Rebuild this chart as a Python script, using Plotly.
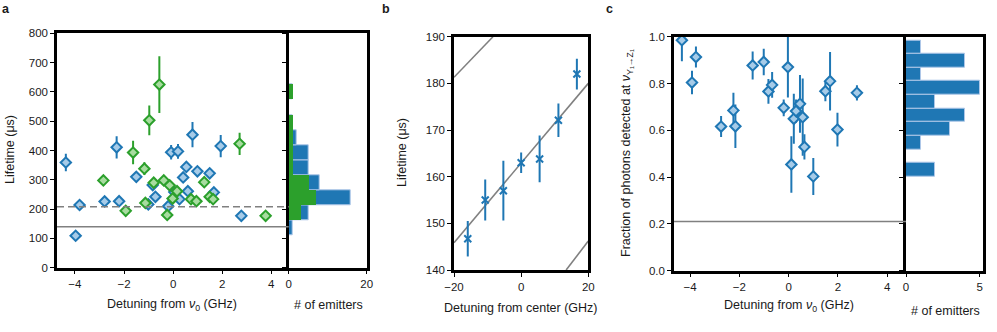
import plotly.graph_objects as go
import numpy as np

# ---------------- datos panel a ----------------
a_blue_x = [-4.37, -3.97, -3.81, -2.79, -2.30, -2.20, -1.50, -1.01, -0.83, -0.72, -0.20, -0.08,
            0.05, 0.20, 0.26, 0.41, 0.54, 0.60, 0.79, 0.99, 1.49, 1.66, 1.94, 2.78]
a_blue_y = [359, 109, 214, 226, 411, 227, 310, 216, 282, 242, 210, 394,
            258, 397, 234, 308, 344, 261, 454, 329, 322, 257, 415, 177]
a_blue_err = [30, 0, 0, 0, 38, 0, 0, 0, 0, 0, 0, 25,
              0, 25, 0, 0, 0, 0, 43, 0, 0, 0, 38, 0]

a_green_x = [-2.84, -1.93, -1.63, -1.17, -1.13, -0.97, -0.79, -0.56, -0.38, -0.24,
             -0.14, -0.02, 0.16, 0.73, 0.95, 1.27, 1.49, 1.63, 2.71, 3.77]
a_green_y = [298, 194, 393, 338, 221, 503, 290, 625, 298, 180,
             281, 236, 261, 234, 227, 292, 242, 234, 423, 177]
a_green_err = [0, 0, 40, 22, 0, 51, 0, 97, 0, 0,
               0, 0, 0, 0, 0, 0, 0, 0, 38, 0]

a_dashed_level = 208
a_solid_level = 140

# histograma a (bordes de bins en µs, cuentas)
a_hist_edges = [109, 160.6, 212.2, 263.8, 315.4, 367.0, 418.6, 470.2, 521.8, 573.4, 625.0]
a_hist_total = [1, 5, 16, 8, 5, 5, 2, 1, 0, 1]
a_hist_green = [0, 3, 7, 5, 1, 1, 1, 1, 0, 1]

# ---------------- datos panel b ----------------
b_x = [-15.9, -10.7, -5.3, 0.0, 5.5, 11.1, 16.6]
b_y = [146.7, 155.0, 157.0, 163.0, 163.8, 172.1, 182.0]
b_err = [3.8, 4.4, 6.4, 2.2, 5.0, 3.6, 3.3]

b_fit_x = [-20, 20]
b_fit_y = [145.85, 180.0]
b_upper_x = [-20, -8.4]
b_upper_y = [181.3, 190.0]
b_lower_x = [13.4, 20]
b_lower_y = [140.0, 146.2]

# ---------------- datos panel c ----------------
c_x = [-4.33, -3.92, -3.76, -2.74, -2.24, -2.16, -1.46, -1.01, -0.82, -0.67, -0.20, -0.03,
       0.11, 0.21, 0.30, 0.46, 0.57, 0.64, 1.00, 1.49, 1.68, 1.98, 2.77]
c_y = [0.985, 0.804, 0.913, 0.616, 0.685, 0.617, 0.877, 0.892, 0.766, 0.794, 0.696, 0.870,
       0.454, 0.649, 0.682, 0.713, 0.656, 0.529, 0.403, 0.767, 0.810, 0.603, 0.760]
c_err = [0.09, 0.05, 0.045, 0.045, 0.075, 0.093, 0.06, 0.057, 0.053, 0.055, 0.036, 0.13,
         0.121, 0.107, 0.05, 0.123, 0.165, 0.054, 0.079, 0.043, 0.125, 0.072, 0.033]
c_level = 0.21

c_hist_edges = [0.403, 0.461, 0.519, 0.578, 0.636, 0.694, 0.752, 0.810, 0.869, 0.927, 0.985]
c_hist_counts = [2, 0, 1, 3, 4, 2, 5, 1, 4, 1]

# ---------------- estilo ----------------
BLUE = '#1f77b4'
BLUE_FILL = '#a6cbe8'
BLUE_EDGE = '#aec7e8'
GREEN = '#2ca02c'
GREEN_FILL = '#a8dca0'
GRAY = '#808080'
FONT = 'Liberation Sans, Arial, sans-serif'
TXT = '#1a1a1a'

W, H = 997, 332


def px(x):      # pixel horizontal -> fracción del papel
    return x / W


def py(y):      # pixel vertical -> fracción del papel
    return 1 - y / H


def centers(edges):
    e = np.array(edges)
    return (e[:-1] + e[1:]) / 2, np.diff(e)


fig = go.Figure()

# Panel a: puntos
fig.add_trace(go.Scatter(
    x=a_blue_x, y=a_blue_y, mode='markers', xaxis='x', yaxis='y',
    error_y=dict(type='data', array=a_blue_err, color=BLUE, thickness=2, width=0),
    marker=dict(symbol='diamond', size=8, color=BLUE_FILL, line=dict(color=BLUE, width=2)),
    showlegend=False
))
fig.add_trace(go.Scatter(
    x=a_green_x, y=a_green_y, mode='markers', xaxis='x', yaxis='y',
    error_y=dict(type='data', array=a_green_err, color=GREEN, thickness=2, width=0),
    marker=dict(symbol='diamond', size=8, color=GREEN_FILL, line=dict(color=GREEN, width=2)),
    showlegend=False
))

# Panel a: histograma (total detrás, verde delante)
ca, wa = centers(a_hist_edges)
fig.add_trace(go.Bar(
    y=ca, x=a_hist_total, width=wa, orientation='h', xaxis='x2', yaxis='y2',
    marker=dict(color=BLUE, line=dict(color=BLUE_EDGE, width=1)), showlegend=False
))
fig.add_trace(go.Bar(
    y=ca, x=a_hist_green, width=wa, orientation='h', xaxis='x2', yaxis='y2',
    marker=dict(color=GREEN, line=dict(width=0)), showlegend=False
))

# Panel b: líneas grises y puntos
for lx, ly in [(b_fit_x, b_fit_y), (b_upper_x, b_upper_y), (b_lower_x, b_lower_y)]:
    fig.add_trace(go.Scatter(
        x=lx, y=ly, mode='lines', xaxis='x3', yaxis='y3',
        line=dict(color=GRAY, width=1.6), showlegend=False
    ))
fig.add_trace(go.Scatter(
    x=b_x, y=b_y, mode='markers', xaxis='x3', yaxis='y3',
    error_y=dict(type='data', array=b_err, color=BLUE, thickness=2, width=0),
    marker=dict(symbol='x-thin', size=7, color=BLUE, line=dict(color=BLUE, width=2)),
    showlegend=False
))

# Panel c: puntos
fig.add_trace(go.Scatter(
    x=c_x, y=c_y, mode='markers', xaxis='x4', yaxis='y4',
    error_y=dict(type='data', array=c_err, color=BLUE, thickness=2, width=0),
    marker=dict(symbol='diamond', size=8, color=BLUE_FILL, line=dict(color=BLUE, width=2)),
    showlegend=False
))

# Panel c: histograma
cc, wc = centers(c_hist_edges)
fig.add_trace(go.Bar(
    y=cc, x=c_hist_counts, width=wc, orientation='h', xaxis='x5', yaxis='y5',
    marker=dict(color=BLUE, line=dict(color=BLUE_EDGE, width=1)), showlegend=False
))

# Líneas horizontales de referencia
fig.add_shape(type='line', xref='x domain', yref='y', x0=0, x1=1, y0=a_dashed_level, y1=a_dashed_level,
              line=dict(color=GRAY, width=1.6, dash='7px,4px'))
fig.add_shape(type='line', xref='x domain', yref='y', x0=0, x1=1, y0=a_solid_level, y1=a_solid_level,
              line=dict(color=GRAY, width=1.6))
fig.add_shape(type='line', xref='x4 domain', yref='y4', x0=0, x1=1, y0=c_level, y1=c_level,
              line=dict(color=GRAY, width=1.6))

# Ejes comunes
axis_style = dict(showline=True, linecolor='black', linewidth=2.5, mirror=True,
                  ticks='outside', ticklen=4, tickwidth=1.3, tickcolor='black',
                  showgrid=False, zeroline=False, automargin=False,
                  tickfont=dict(family=FONT, size=11.5, color=TXT))
# ejes y de a y c sin línea derecha (la pone el histograma)
axis_style_left = dict(axis_style, mirror=False)

fig.update_layout(
    width=W, height=H,
    margin=dict(l=0, r=0, t=0, b=0, autoexpand=False),
    plot_bgcolor='white', paper_bgcolor='white',
    barmode='overlay', bargap=0,
    font=dict(family=FONT, size=11.5, color=TXT),

    xaxis=dict(domain=[px(57), px(288.7)], anchor='y', range=[-4.73, 4.71],
               tickvals=[-4, -2, 0, 2, 4], **axis_style),
    yaxis=dict(domain=[py(267.7), py(33.3)], anchor='x', range=[0, 800],
               tickvals=list(range(0, 801, 100)), **axis_style_left),

    xaxis2=dict(domain=[px(288.7), px(366.7)], anchor='y2', range=[0, 20],
                tickvals=[0, 20], **axis_style),
    yaxis2=dict(domain=[py(267.7), py(33.3)], anchor='x2', range=[0, 800],
                tickvals=list(range(0, 801, 100)), showticklabels=False, **axis_style),

    xaxis3=dict(domain=[px(454), px(588.3)], anchor='y3', range=[-20, 20],
                tickvals=[-20, 0, 20], **axis_style),
    yaxis3=dict(domain=[py(270), py(36.7)], anchor='x3', range=[140, 190],
                tickvals=[140, 150, 160, 170, 180, 190], **axis_style),

    xaxis4=dict(domain=[px(674), px(906)], anchor='y4', range=[-4.65, 4.76],
                tickvals=[-4, -2, 0, 2, 4], **axis_style),
    yaxis4=dict(domain=[py(270.7), py(36.7)], anchor='x4', range=[0, 1],
                tickvals=[0, 0.2, 0.4, 0.6, 0.8, 1.0], tickformat='.1f', **axis_style_left),

    xaxis5=dict(domain=[px(906), px(983.3)], anchor='y5', range=[0, 5.25],
                tickvals=[0, 5], **axis_style),
    yaxis5=dict(domain=[py(270.7), py(36.7)], anchor='x5', range=[0, 1],
                tickvals=[0, 0.2, 0.4, 0.6, 0.8, 1.0], showticklabels=False, **axis_style),
)

# Textos (letras de panel y títulos de ejes)
texts = [
    ('<b>a</b>', 6, 9, 0),
    ('<b>b</b>', 386, 9, 0),
    ('<b>c</b>', 609, 9, 0),
    ('Lifetime (μs)', 10, 150, -90),
    ('Detuning from <i>ν</i><sub>0</sub> (GHz)', 172, 305, 0),
    ('# of emitters', 328, 305, 0),
    ('Lifetime (μs)', 402, 153, -90),
    ('Detuning from center (GHz)', 521, 308, 0),
    ('Fraction of photons detected at <i>ν</i><sub>Y₁→Z₁</sub>', 627, 153, -90),
    ('Detuning from <i>ν</i><sub>0</sub> (GHz)', 789, 306, 0),
    ('# of emitters', 945, 311, 0),
]
for t, x, y, ang in texts:
    fig.add_annotation(text=t, x=px(x), y=py(y), xref='paper', yref='paper',
                       showarrow=False, textangle=ang, xanchor='center', yanchor='middle',
                       font=dict(family=FONT, size=12.5, color=TXT))

# quitar el margen del body para que la figura empiece en (0, 0)
fig.write_html("out.html", config={'displayModeBar': False},
               post_script="document.body.style.margin='0';")
